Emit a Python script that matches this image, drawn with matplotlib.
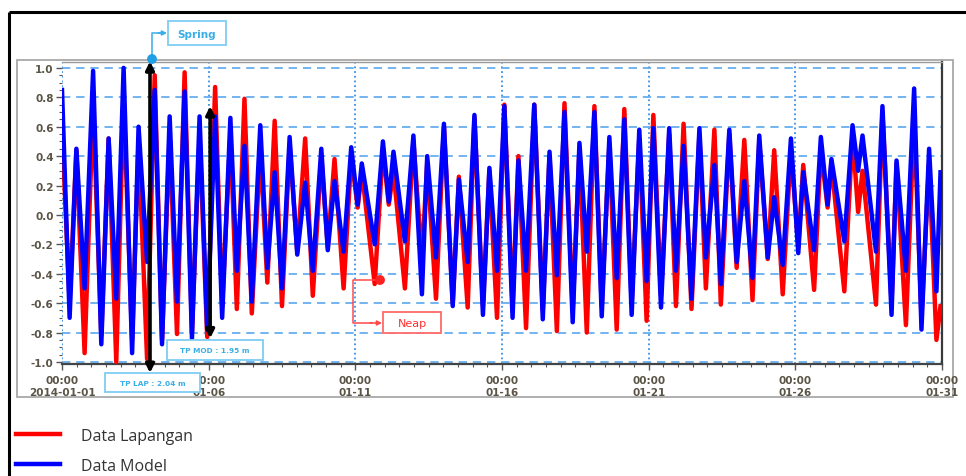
import matplotlib
matplotlib.use("Agg")
import matplotlib.pyplot as plt
from matplotlib.patches import Rectangle, Circle
from matplotlib.lines import Line2D

# ---------------- data ----------------
# time of each turning point, in days after 2014-01-01 00:00
t_days = [0.00, 0.26, 0.49, 0.77, 1.06, 1.34, 1.59, 1.85, 2.10, 2.39,
          2.61, 2.90, 3.16, 3.41, 3.67, 3.92, 4.18, 4.43, 4.69, 4.95,
          5.22, 5.46, 5.74, 5.96, 6.22, 6.47, 6.76, 7.00, 7.25, 7.50,
          7.76, 8.02, 8.29, 8.55, 8.84, 9.06, 9.29, 9.60, 9.86, 10.08,
          10.22, 10.66, 10.94, 11.14, 11.30, 11.69, 11.98, 12.27, 12.45, 12.75,
          13.02, 13.32, 13.53, 13.83, 14.06, 14.35, 14.57, 14.83, 15.08, 15.36,
          15.56, 15.82, 16.10, 16.39, 16.62, 16.87, 17.13, 17.41, 17.64, 17.89,
          18.15, 18.40, 18.66, 18.91, 19.17, 19.42, 19.68, 19.93, 20.16, 20.42,
          20.70, 20.93, 21.19, 21.46, 21.73, 21.95, 22.24, 22.46, 22.75, 23.00,
          23.26, 23.54, 23.77, 24.06, 24.28, 24.57, 24.85, 25.10, 25.27, 25.64,
          25.87, 26.10, 26.23, 26.67, 26.95, 27.14, 27.29, 27.75, 27.97, 28.28,
          28.45, 28.77, 29.05, 29.30, 29.56, 29.81, 29.95]

data_model = [0.85, -0.70, 0.45, -0.50, 0.98, -0.88, 0.52, -0.57, 1.00, -0.94,
              0.60, -0.32, 0.85, -0.88, 0.67, -0.59, 0.84, -0.84, 0.67, -0.78,
              0.67, -0.70, 0.66, -0.38, 0.47, -0.59, 0.61, -0.36, 0.29, -0.50,
              0.53, -0.27, 0.22, -0.38, 0.45, -0.24, 0.23, -0.25, 0.46, 0.07,
              0.35, -0.20, 0.50, 0.09, 0.43, -0.18, 0.54, -0.54, 0.40, -0.29,
              0.62, -0.62, 0.24, -0.32, 0.68, -0.68, 0.32, -0.38, 0.74, -0.70,
              0.37, -0.38, 0.75, -0.71, 0.43, -0.41, 0.70, -0.73, 0.49, -0.25,
              0.70, -0.69, 0.53, -0.43, 0.65, -0.68, 0.58, -0.45, 0.59, -0.63,
              0.59, -0.38, 0.47, -0.57, 0.59, -0.29, 0.34, -0.47, 0.58, -0.32,
              0.23, -0.43, 0.54, -0.29, 0.12, -0.34, 0.52, -0.26, 0.29, -0.24,
              0.53, 0.07, 0.38, -0.18, 0.61, 0.30, 0.54, -0.25, 0.74, -0.68,
              0.37, -0.38, 0.86, -0.78, 0.45, -0.52, 0.29]

data_lapangan = [0.60, -0.60, 0.44, -0.94, 0.75, -0.82, 0.52, -1.00, 0.80, -0.85,
                 0.50, -0.98, 0.95, -0.85, 0.55, -0.81, 0.97, -0.80, 0.55, -0.83,
                 0.87, -0.62, 0.55, -0.64, 0.79, -0.67, 0.45, -0.46, 0.64, -0.62,
                 0.48, -0.25, 0.52, -0.55, 0.40, -0.22, 0.38, -0.50, 0.40, 0.05,
                 0.30, -0.47, 0.45, 0.07, 0.30, -0.50, 0.50, -0.30, 0.35, -0.57,
                 0.60, -0.60, 0.26, -0.63, 0.66, -0.62, 0.30, -0.70, 0.75, -0.62,
                 0.40, -0.77, 0.75, -0.65, 0.40, -0.79, 0.76, -0.65, 0.45, -0.80,
                 0.74, -0.62, 0.48, -0.78, 0.72, -0.60, 0.52, -0.72, 0.68, -0.55,
                 0.55, -0.62, 0.62, -0.64, 0.55, -0.50, 0.58, -0.61, 0.55, -0.36,
                 0.51, -0.58, 0.50, -0.30, 0.44, -0.54, 0.45, -0.22, 0.34, -0.51,
                 0.45, 0.05, 0.35, -0.52, 0.55, 0.02, 0.30, -0.61, 0.70, -0.60,
                 0.35, -0.75, 0.66, -0.70, 0.35, -0.85, -0.62]

series_names = ["Data Lapangan", "Data Model"]
series_colors = ["#ff0000", "#0000ff"]

xtick_days = [0, 5, 10, 15, 20, 25, 30]
xtick_labels = ["00:00\n2014-01-01", "00:00\n01-06", "00:00\n01-11", "00:00\n01-16",
                "00:00\n01-21", "00:00\n01-26", "00:00\n01-31"]
ytick_vals = [-1.0, -0.8, -0.6, -0.4, -0.2, 0.0, 0.2, 0.4, 0.6, 0.8, 1.0]
ytick_labels = ["-1.0", "-0.8", "-0.6", "-0.4", "-0.2", "0.0", "0.2", "0.4", "0.6", "0.8", "1.0"]

# annotation texts
spring_text = "Spring"
neap_text = "Neap"
tp_mod_text = "TP MOD : 1.95 m"
tp_lap_text = "TP LAP : 2.04 m"

# ---------------- figure ----------------
W, H = 966, 477
fig = plt.figure(figsize=(W / 100, H / 100), dpi=100)
fig.patch.set_facecolor("white")

# background overlay in pixel coordinates
bg = fig.add_axes([0, 0, 1, 1], zorder=0)
bg.set_xlim(0, W)
bg.set_ylim(H, 0)
bg.axis("off")
# outer black frame
bg.plot([9, W + 5], [13, 13], color="black", lw=2.2, solid_capstyle="butt")
bg.plot([9, 9], [13, H + 5], color="black", lw=2.2, solid_capstyle="butt")
# chart panel
bg.add_patch(Rectangle((17, 61), 936, 337, facecolor="white", edgecolor="#a8a8a8", lw=1.3))

# main axes
ax = fig.add_axes([62 / W, 1 - 365 / H, 880 / W, 302 / H], zorder=1)
ax.set_xlim(0, 30)
ax.set_ylim(-1.014, 1.04)

ax.plot(t_days, data_lapangan, color=series_colors[0], lw=3.2, label=series_names[0],
        solid_joinstyle="round", zorder=3)
ax.plot(t_days, data_model, color=series_colors[1], lw=3.2, label=series_names[1],
        solid_joinstyle="round", zorder=4)

ax.set_yticks(ytick_vals)
ax.set_yticklabels(ytick_labels)
ax.set_yticks([v / 100 for v in range(-100, 101, 5)], minor=True)
ax.set_xticks(xtick_days)
ax.set_xticklabels(xtick_labels)
ax.set_xticks([d / 2 for d in range(0, 61)], minor=True)

lab_color = "#5a5446"
ax.tick_params(axis="both", which="major", direction="out", length=4, width=1,
               color="#555555", labelsize=7.5, labelcolor=lab_color, pad=2)
ax.tick_params(axis="both", which="minor", direction="out", length=2.5, width=0.8,
               color="#555555")
for lab in ax.get_xticklabels() + ax.get_yticklabels():
    lab.set_fontweight("bold")
    lab.set_linespacing(1.25)
ax.tick_params(axis="x", which="major", pad=4)

ax.yaxis.grid(True, which="major", color="#5aa8ee", linestyle=(0, (5, 3.5)), lw=1.2, zorder=1)
ax.xaxis.grid(True, which="major", color="#3a8fe6", linestyle=(0, (1, 1.6)), lw=1.3, zorder=1)
ax.set_axisbelow(True)

ax.spines["left"].set_visible(False)
ax.spines["top"].set_color("#9a9a9a")
ax.spines["top"].set_linewidth(1.0)
ax.spines["right"].set_color("#3a3a3a")
ax.spines["right"].set_linewidth(1.6)
ax.spines["bottom"].set_color("#444444")
ax.spines["bottom"].set_linewidth(1.6)

# black double arrows (tidal ranges)
ax.annotate("", xy=(3.0, -1.075), xytext=(3.0, 1.045), xycoords="data",
            arrowprops=dict(arrowstyle="<|-|>", color="black", lw=2.6, mutation_scale=12,
                            shrinkA=0, shrinkB=0), annotation_clip=False, zorder=6)
ax.annotate("", xy=(5.05, -0.84), xytext=(5.05, 0.74), xycoords="data",
            arrowprops=dict(arrowstyle="<|-|>", color="black", lw=2.6, mutation_scale=12,
                            shrinkA=0, shrinkB=0), annotation_clip=False, zorder=6)

# foreground overlay for annotation boxes and legend
fg = fig.add_axes([0, 0, 1, 1], zorder=3)
fg.set_xlim(0, W)
fg.set_ylim(H, 0)
fg.axis("off")
fg.patch.set_alpha(0)

cyan = "#38aee8"
# Spring
fg.add_patch(Circle((152, 60), 4.2, color="#1f9fe4", zorder=5))
fg.plot([152, 152, 160], [58, 34, 34], color=cyan, lw=1.1)
fg.annotate("", xy=(167, 34), xytext=(158, 34),
            arrowprops=dict(arrowstyle="-|>", color=cyan, lw=1.1, mutation_scale=7,
                            shrinkA=0, shrinkB=0))
fg.add_patch(Rectangle((168, 22), 58, 24, facecolor="white", edgecolor="#7fcdf2", lw=1.3))
fg.text(197, 34.5, spring_text, ha="center", va="center", fontsize=7.5,
        fontweight="bold", color="#3aaee6")

# TP boxes
fg.add_patch(Rectangle((167, 341), 96, 20, facecolor="white", edgecolor="#7fcdf2", lw=1.3))
fg.text(215, 351.5, tp_mod_text, ha="center", va="center", fontsize=5.3,
        fontweight="bold", color="#3aaee6")
fg.add_patch(Rectangle((105, 374), 95, 19, facecolor="white", edgecolor="#7fcdf2", lw=1.3))
fg.text(152.5, 384, tp_lap_text, ha="center", va="center", fontsize=5.3,
        fontweight="bold", color="#3aaee6")

# Neap
red = "#ff4a4a"
fg.add_patch(Circle((380, 281), 4.2, color="#ff2020", zorder=5))
fg.plot([376, 353, 353, 372], [281, 281, 324, 324], color=red, lw=1.1)
fg.annotate("", xy=(382, 324), xytext=(370, 324),
            arrowprops=dict(arrowstyle="-|>", color=red, lw=1.1, mutation_scale=7,
                            shrinkA=0, shrinkB=0))
fg.add_patch(Rectangle((383, 313), 58, 21, facecolor="white", edgecolor="#ff6a6a", lw=1.3))
fg.text(412, 324, neap_text, ha="center", va="center", fontsize=8, color="#ff3030")

# legend
leg = fig.legend(handles=[Line2D([], [], color=series_colors[0], lw=3.2),
                          Line2D([], [], color=series_colors[1], lw=3.2)],
                 labels=series_names, loc="upper left",
                 bbox_to_anchor=(16 / W, 1 - 429 / H), frameon=False,
                 handlelength=2.75, handletextpad=1.35, labelspacing=0.85,
                 borderaxespad=0, borderpad=0,
                 prop={"family": "Open Sans", "size": 11.5})
for txt in leg.get_texts():
    txt.set_color("#333333")

fig.savefig("out.png", dpi=100, facecolor="white")
